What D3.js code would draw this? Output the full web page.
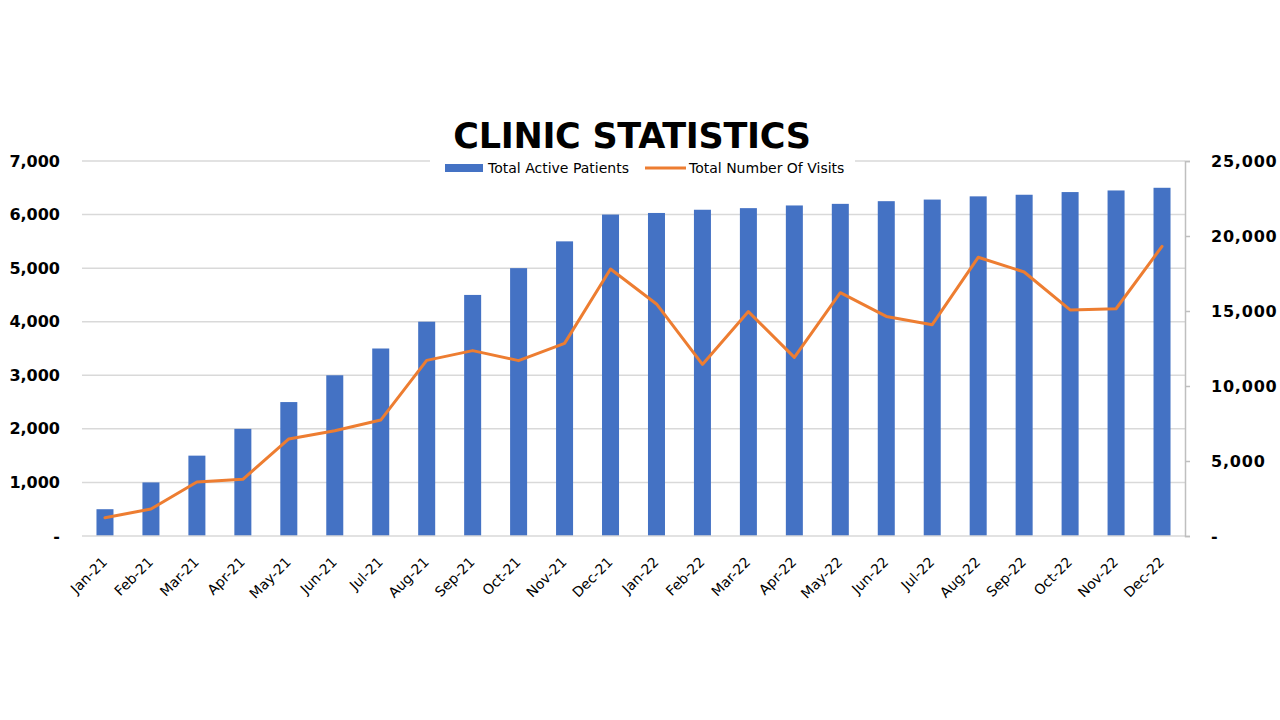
<!DOCTYPE html>
<html><head><meta charset="utf-8">
<script src="https://cdn.jsdelivr.net/npm/d3@7"></script>
<style>body{margin:0;background:#fff}svg{display:block}</style>
</head><body><svg id="c" width="1280" height="720"></svg>
<script>
const months = ["Jan-21","Feb-21","Mar-21","Apr-21","May-21","Jun-21","Jul-21","Aug-21","Sep-21","Oct-21","Nov-21","Dec-21",
"Jan-22","Feb-22","Mar-22","Apr-22","May-22","Jun-22","Jul-22","Aug-22","Sep-22","Oct-22","Nov-22","Dec-22"];
const activePatients = [500,1000,1500,2000,2500,3000,3500,4000,4500,5000,5500,6000,
6030,6090,6120,6170,6200,6250,6280,6340,6370,6420,6450,6500];
const totalVisits = [1220,1800,3600,3780,6470,7020,7730,11710,12360,11690,12840,17800,
15470,11440,14960,11910,16220,14640,14090,18580,17600,15070,15150,19310];
const leftTicks = [0,1000,2000,3000,4000,5000,6000,7000];
const rightTicks = [0,5000,10000,15000,20000,25000];
const title = "CLINIC STATISTICS";
const seriesNames = ["Total Active Patients","Total Number Of Visits"];

const svg = d3.select("#c");
const L = 82, R = 1185, T = 161, B = 536;
const x = d3.scaleBand().domain(months).range([L, R]).paddingInner(0.63).paddingOuter(0.315);
const yL = d3.scaleLinear().domain([0,7000]).range([B,T]);
const yR = d3.scaleLinear().domain([0,25000]).range([B,T]);
const fmt = v => v === 0 ? "-" : d3.format(",")(v);
const tickFont = "'DejaVu Sans', Verdana, sans-serif";

// gridlines
svg.append("g").selectAll("line").data(leftTicks.filter(d=>d>0)).join("line")
  .attr("x1", L).attr("x2", R).attr("y1", d=>yL(d)).attr("y2", d=>yL(d))
  .attr("stroke", "#d9d9d9").attr("stroke-width", 1.5);

// bars
svg.append("g").selectAll("rect").data(activePatients).join("rect")
  .attr("x", (d,i)=>x(months[i])).attr("width", x.bandwidth())
  .attr("y", d=>yL(d)).attr("height", d=>B - yL(d))
  .attr("fill", "#4472C4");

// bottom axis line
svg.append("line").attr("x1", L).attr("x2", R).attr("y1", B).attr("y2", B)
  .attr("stroke", "#d9d9d9").attr("stroke-width", 1.5);

// left axis
const gL = svg.append("g").attr("transform", `translate(${L},0)`)
  .call(d3.axisLeft(yL).tickValues(leftTicks).tickFormat(fmt).tickSize(0).tickPadding(22));
gL.select(".domain").remove();
gL.selectAll("text").attr("font-family", tickFont).attr("font-weight", "bold").attr("font-size", 16).attr("fill", "#000");

// right axis
const gR = svg.append("g").attr("transform", `translate(${R},0)`)
  .call(d3.axisRight(yR).tickValues(rightTicks).tickFormat(fmt).tickSize(5).tickPadding(21));
gR.select(".domain").attr("stroke", "#bfbfbf").attr("stroke-width", 1.5);
gR.selectAll(".tick line").attr("stroke", "#bfbfbf").attr("stroke-width", 1.5);
gR.selectAll("text").attr("font-family", tickFont).attr("font-weight", "bold").attr("font-size", 16)
  .attr("letter-spacing", 0.8).attr("fill", "#000");

// line
const line = d3.line().x((d,i)=>x(months[i]) + x.bandwidth()/2).y(d=>yR(d));
svg.append("path").datum(totalVisits).attr("d", line)
  .attr("fill", "none").attr("stroke", "#ED7D31").attr("stroke-width", 3)
  .attr("stroke-linejoin", "round").attr("stroke-linecap", "round");

// x axis labels
const gX = svg.append("g").attr("transform", `translate(0,${B})`)
  .call(d3.axisBottom(x).tickSize(0).tickPadding(0));
gX.select(".domain").remove();
gX.selectAll("text")
  .attr("font-family", tickFont).attr("font-size", 14).attr("fill", "#000")
  .attr("text-anchor", "end").attr("dy", 0)
  .attr("transform", "translate(3,27) rotate(-45)");

// title
svg.append("text").attr("x", 632).attr("y", 148).attr("text-anchor", "middle")
  .attr("font-family", tickFont).attr("font-weight", "bold").attr("font-size", 35)
  .attr("letter-spacing", -0.3).attr("fill", "#000").text(title);

// legend
const lg = svg.append("g");
lg.append("rect").attr("x", 430).attr("y", 156).attr("width", 425).attr("height", 24).attr("fill", "#fff");
lg.append("rect").attr("x", 445).attr("y", 164).attr("width", 38).attr("height", 8).attr("fill", "#4472C4");
lg.append("text").attr("x", 488).attr("y", 173).attr("font-family", tickFont).attr("font-size", 14).attr("fill", "#000").text(seriesNames[0]);
lg.append("line").attr("x1", 645).attr("x2", 686).attr("y1", 168).attr("y2", 168).attr("stroke", "#ED7D31").attr("stroke-width", 3);
lg.append("text").attr("x", 689).attr("y", 173).attr("font-family", tickFont).attr("font-size", 14).attr("fill", "#000").text(seriesNames[1]);
</script></body></html>
